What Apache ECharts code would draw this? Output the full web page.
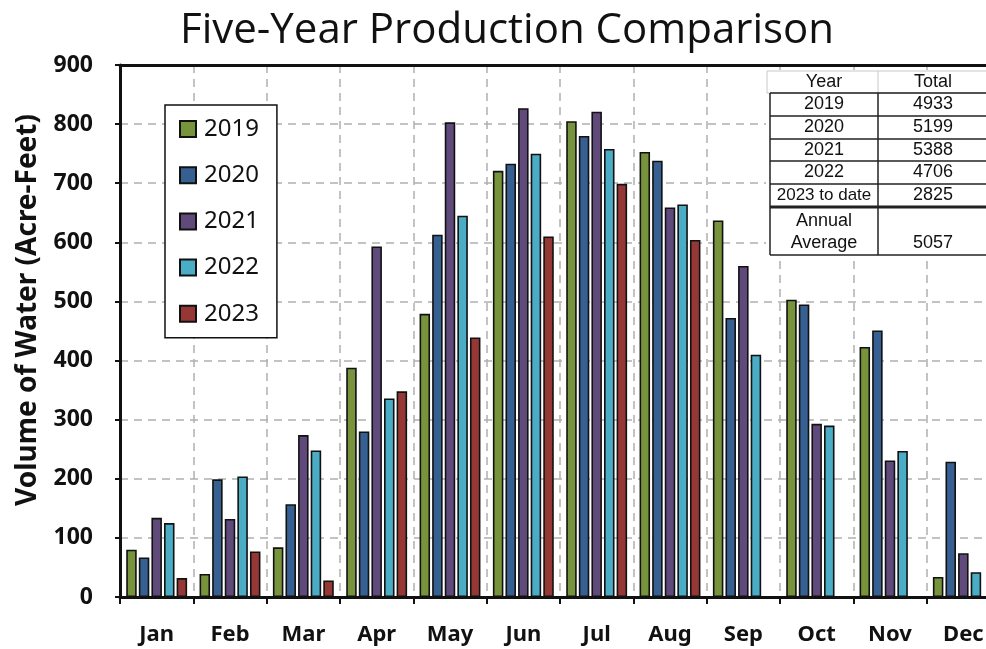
<!DOCTYPE html>
<html>
<head>
<meta charset="utf-8">
<title>Five-Year Production Comparison</title>
<script src="https://cdn.jsdelivr.net/npm/echarts@6/dist/echarts.min.js"></script>
<style>
  html, body { margin: 0; padding: 0; background: #fff; }
  #chart { width: 986px; height: 649px; }
</style>
</head>
<body>
<div id="chart"></div>
<script>
// data
var months = ['Jan', 'Feb', 'Mar', 'Apr', 'May', 'Jun', 'Jul', 'Aug', 'Sep', 'Oct', 'Nov', 'Dec'];
var years = ['2019', '2020', '2021', '2022', '2023'];
var y2019 = [80, 39, 84, 388, 479, 721, 805, 753, 637, 503, 423, 34];
var y2020 = [67, 199, 157, 280, 613, 733, 780, 738, 472, 495, 451, 229];
var y2021 = [134, 132, 274, 593, 803, 827, 821, 659, 560, 293, 231, 74];
var y2022 = [125, 204, 248, 336, 645, 750, 758, 664, 410, 290, 247, 42];
var y2023 = [32, 77, 28, 348, 439, 610, 699, 604, null, null, null, null];
var yTicks = [0, 100, 200, 300, 400, 500, 600, 700, 800, 900];

// totals table
var tableYears = ['2019', '2020', '2021', '2022', '2023 to date'];
var tableTotals = [4933, 5199, 5388, 4706, 2825];
var annualAverage = 5057;

var colors = ['#77933C', '#376092', '#604A7B', '#4BACC6', '#953735'];
var allData = [y2019, y2020, y2021, y2022, y2023];

var chart = echarts.init(document.getElementById('chart'));

var series = years.map(function (name, i) {
    return {
        name: name,
        type: 'bar',
        data: allData[i],
        barWidth: 10.5,
        barGap: '20%',
        itemStyle: { color: colors[i], borderColor: '#111', borderWidth: 1.6 }
    };
});

// table drawn as graphic
var tbl = [];
var tx0 = 770, tx1 = 878, tx2 = 992;
var rowLines = [93, 116, 139, 161, 184, 207, 255];
tbl.push({ type: 'rect', shape: { x: 766, y: 70, width: 230, height: 189 }, style: { fill: '#fff', stroke: null }, z: 100 });
tbl.push({ type: 'rect', shape: { x: 767, y: 71, width: 226, height: 22 }, style: { fill: '#fff', stroke: '#c8c8c8', lineWidth: 1 }, z: 101 });
tbl.push({ type: 'line', shape: { x1: tx1, y1: 71, x2: tx1, y2: 93 }, style: { stroke: '#c8c8c8', lineWidth: 1 }, z: 101 });
rowLines.forEach(function (y, i) {
    tbl.push({ type: 'line', shape: { x1: tx0, y1: y, x2: tx2, y2: y }, style: { stroke: '#222', lineWidth: i === 5 ? 3 : 1.5 }, z: 102 });
});
[tx0, tx1].forEach(function (x) {
    tbl.push({ type: 'line', shape: { x1: x, y1: 93, x2: x, y2: 255 }, style: { stroke: '#222', lineWidth: 1.5 }, z: 102 });
});
var c1 = 824, c2 = 933;
function cell(text, x, y, size) {
    return { type: 'text', x: x, y: y, z: 103, style: { text: text, fill: '#111', font: (size || 18) + 'px "Liberation Sans", Arial', align: 'center', verticalAlign: 'middle' } };
}
tbl.push(cell('Year', c1, 82));
tbl.push(cell('Total', c2, 82));
tableYears.forEach(function (yr, i) {
    var cy = (rowLines[i] + rowLines[i + 1]) / 2;
    tbl.push(cell(yr, c1, cy, i === 4 ? 17 : 18));
    tbl.push(cell(String(tableTotals[i]), c2, cy));
});
tbl.push(cell('Annual', c1, 221));
tbl.push(cell('Average', c1, 243));
tbl.push(cell(String(annualAverage), c2, 243));

var option = {
    backgroundColor: '#fff',
    animation: false,
    title: {
        text: 'Five-Year Production Comparison',
        left: 502,
        textAlign: 'center',
        top: 5,
        textStyle: { fontFamily: '"Open Sans", "Noto Sans", sans-serif', fontWeight: 'normal', fontSize: 42, color: '#111' }
    },
    legend: {
        data: years,
        orient: 'vertical',
        left: 165,
        top: 105,
        backgroundColor: '#fff',
        borderColor: '#111',
        borderWidth: 1.5,
        borderRadius: 0,
        padding: [12, 18, 12, 14],
        itemGap: 22.2,
        itemWidth: 16,
        itemHeight: 16,
        icon: 'rect',
        textStyle: { fontFamily: '"Noto Sans", sans-serif', fontSize: 24, color: '#111', padding: [0, 0, 0, 3] },
        z: 50
    },
    grid: { left: 120, width: 880, top: 65, bottom: 52, outerBoundsMode: 'none', containLabel: false },
    xAxis: [{
        type: 'category',
        data: months,
        axisLine: { lineStyle: { color: '#111', width: 3 } },
        axisTick: { show: true, length: 7, lineStyle: { color: '#111', width: 2 } },
        axisLabel: { margin: 27, color: '#111', fontWeight: 'bold', fontSize: 22, fontFamily: '"Noto Sans", sans-serif' },
        splitLine: { show: true, lineStyle: { color: '#b0b0b0', type: [8, 6], width: 1.5 } }
    }, {
        type: 'category',
        data: months,
        position: 'top',
        axisLine: { lineStyle: { color: '#111', width: 3 } },
        axisTick: { show: false },
        axisLabel: { show: false },
        splitLine: { show: false }
    }],
    yAxis: {
        type: 'value',
        min: yTicks[0],
        max: yTicks[yTicks.length - 1],
        interval: 100,
        axisLine: { show: true, lineStyle: { color: '#111', width: 3 } },
        axisTick: { show: true, length: 5, lineStyle: { color: '#111', width: 2 } },
        axisLabel: { margin: 27, color: '#111', fontWeight: 'bold', fontSize: 23, fontFamily: '"Noto Sans", sans-serif' },
        splitLine: { show: true, lineStyle: { color: '#b0b0b0', type: [8, 6], width: 1.5 } }
    },
    graphic: [{
        type: 'text',
        x: 28,
        y: 310,
        rotation: Math.PI / 2,
        style: {
            text: 'Volume of Water (Acre-Feet)',
            fill: '#111',
            font: 'bold 28px "Noto Sans", sans-serif',
            align: 'center',
            verticalAlign: 'middle'
        }
    }].concat(tbl),
    series: series
};

chart.setOption(option);
</script>
</body>
</html>
